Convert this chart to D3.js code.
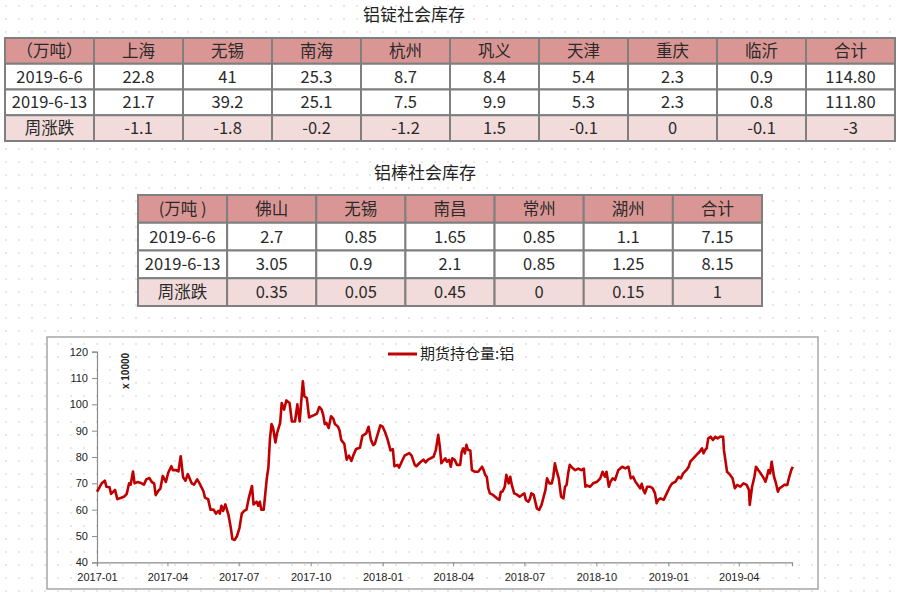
<!DOCTYPE html>
<html>
<head>
<meta charset="utf-8">
<script src="https://cdn.jsdelivr.net/npm/d3@7"></script>
<style>
body { margin: 0; background: #fff; }
text { font-family: "Noto Sans CJK SC", "Noto Sans", sans-serif; fill: #222; }
</style>
</head>
<body>
<div class="chart-container"></div>
<script>
// 铝锭社会库存
var ingotHeader = ['（万吨）', '上海', '无锡', '南海', '杭州', '巩义', '天津', '重庆', '临沂', '合计'];
var ingotRow1 = ['2019-6-6', '22.8', '41', '25.3', '8.7', '8.4', '5.4', '2.3', '0.9', '114.80'];
var ingotRow2 = ['2019-6-13', '21.7', '39.2', '25.1', '7.5', '9.9', '5.3', '2.3', '0.8', '111.80'];
var ingotChange = ['周涨跌', '-1.1', '-1.8', '-0.2', '-1.2', '1.5', '-0.1', '0', '-0.1', '-3'];

// 铝棒社会库存
var rodHeader = ['(万吨 )', '佛山', '无锡', '南昌', '常州', '湖州', '合计'];
var rodRow1 = ['2019-6-6', '2.7', '0.85', '1.65', '0.85', '1.1', '7.15'];
var rodRow2 = ['2019-6-13', '3.05', '0.9', '2.1', '0.85', '1.25', '8.15'];
var rodChange = ['周涨跌', '0.35', '0.05', '0.45', '0', '0.15', '1'];

// 期货持仓量:铝 (x 10000), days counted from 2017-01-01
var seriesName = '期货持仓量:铝';
var startDate = new Date(2017, 0, 1);
var endDate = new Date(2019, 5, 8);
var days = [0, 6, 10, 12, 16, 18, 23, 26, 31, 35, 38, 41, 43, 46, 48, 52, 57, 60, 63, 67,
  70, 73, 75, 78, 81, 84, 88, 91, 95, 97, 101, 104, 107, 110, 113, 116, 121, 124, 128, 131,
  136, 138, 142, 145, 149, 152, 155, 157, 159, 161, 164, 168, 171, 173, 176, 179, 182, 185, 188, 191,
  194, 198, 200, 204, 206, 208, 210, 213, 215, 217, 219, 221, 223, 225, 228, 230, 232, 234, 236, 239,
  242, 246, 249, 253, 256, 259, 263, 265, 268, 271, 274, 278, 281, 284, 287, 289, 291, 293, 296, 299,
  302, 304, 308, 310, 312, 316, 319, 322, 325, 328, 331, 336, 339, 344, 347, 350, 353, 355, 358, 362,
  365, 368, 371, 375, 378, 380, 384, 386, 389, 393, 399, 402, 406, 408, 413, 417, 420, 423,
  430, 433, 436, 438, 440, 445, 447, 450, 452, 454, 457, 460, 464, 466, 468, 470, 472, 474, 477, 479,
  483, 487, 492, 494, 496, 498, 500, 502, 506, 511, 514, 516, 518, 521, 523, 526, 528, 530, 533, 536,
  540, 543, 546, 548, 551, 553, 555, 558, 562, 565, 568, 573, 575, 578, 581, 583, 585, 587, 590, 593,
  596, 598, 600, 602, 604, 608, 611, 615, 619, 622, 624, 626, 630, 634, 639, 643, 646, 649, 651, 654,
  656, 659, 662, 666, 671, 675, 679, 682, 685, 688, 691, 694, 696, 698, 700, 703, 707, 710, 713, 715,
  717, 720, 724, 728, 732, 735, 739, 743, 746, 749, 753, 756, 758, 762, 766, 770, 773, 775, 777, 779,
  781, 784, 787, 790, 793, 796, 800, 801, 805, 809, 812, 815, 818, 822, 826, 830, 833, 834, 837, 840,
  842, 845, 848, 852, 854, 856, 858, 860, 862, 865, 867, 870, 872, 875, 878, 882, 884, 887, 889];
var values = [66.8, 70, 71, 68.7, 68.5, 66, 67.5, 64, 64.5, 65, 66, 70, 69.5, 74.5, 70, 70.5, 70, 69.5, 71.5, 72,
  70.5, 70, 65.5, 67, 68, 72.8, 70.5, 74, 76.5, 75, 75, 74.5, 80.3, 72.3, 71, 73.5, 70, 69.5, 71.5, 70,
  67, 64.5, 64, 60, 60, 58.5, 59.5, 58.5, 61.5, 59.5, 62, 58, 53, 48.8, 48.5, 50, 53, 58.5, 59.5, 60,
  64.5, 69, 62, 63, 61.5, 63, 60, 60, 66, 72, 76, 87, 92.5, 91, 85.5, 89, 91, 93, 100.5, 98,
  101.5, 100.5, 93.5, 93.5, 100, 93.5, 108.8, 103, 102.5, 95, 95.5, 96, 96.5, 99, 98, 96, 92.5, 93, 91, 95.5,
  94.5, 92.5, 91.5, 90, 86.5, 85, 79, 80.5, 78.5, 81, 83, 83.5, 88, 89, 91.5, 86.5, 84.5, 85, 88, 92,
  91.5, 89.5, 87, 82.5, 83, 76.5, 77, 76, 78, 80.5, 81.5, 80.5, 77, 76.5, 78, 79, 78, 79,
  80.1, 82.7, 88.4, 83.9, 77.6, 79.5, 78.2, 78.9, 76.3, 79.5, 78.9, 77, 77, 82, 83.3, 81.4, 84.6, 82.7, 82.5, 75,
  74.4, 74.4, 76.3, 75, 73.2, 72.5, 68.1, 66.2, 65.6, 64.3, 63.7, 66.8, 66.8, 68.7, 73.2, 70, 72.5, 69.4, 66.2, 65.8,
  64.9, 65.6, 66.2, 63.7, 63, 64, 66.2, 65.6, 60.5, 59.9, 61.8, 67.5, 71.9, 70, 70, 72.5, 77.6, 75, 71.9, 64.9,
  64.3, 68.7, 69.4, 73.8, 77, 75.7, 75, 75.6, 75, 75.6, 68.7, 69.2, 68.7, 70, 70.6, 71.9, 74.4, 72.5, 74.4, 68.7,
  70.6, 71.9, 71.3, 75, 76.3, 75.7, 76.3, 71.9, 72.5, 70.6, 69.4, 68.1, 69.8, 67.5, 66.2, 68.7, 68.7, 68.1, 66.2, 62.4,
  63.7, 64.3, 63.7, 66.2, 68.7, 70, 70.6, 72.5, 71.9, 73.8, 75, 76.3, 78.2, 79.5, 80.8, 82, 83.3, 81.4, 82.7, 83.3,
  87.1, 87.7, 86.5, 87.7, 87.1, 87.7, 87.7, 82.7, 74.4, 73.2, 71.9, 68.1, 69.4, 68.7, 70, 69.4, 67.5, 61.8, 68.7, 72.5,
  76.3, 75, 73.8, 71.9, 70.6, 72.5, 75, 73.8, 78.2, 72.5, 70.6, 66.8, 68.1, 68.7, 69.4, 69.4, 71.9, 75, 76.3];

var yTicks = [40, 50, 60, 70, 80, 90, 100, 110, 120];

var svg = d3.select('.chart-container').append('svg')
  .attr('width', 900)
  .attr('height', 594);

// dotted page background
var pattern = svg.append('defs').append('pattern')
  .attr('id', 'dots')
  .attr('patternUnits', 'userSpaceOnUse')
  .attr('width', 13)
  .attr('height', 13);
pattern.append('circle')
  .attr('cx', 6).attr('cy', 6).attr('r', 1.1)
  .attr('fill', '#e2e2e2');
svg.append('rect')
  .attr('width', 900).attr('height', 594)
  .attr('fill', 'url(#dots)');

function drawTable(rows, x0, x1, y0, y1, fills) {
  var nCols = rows[0].length;
  var x = d3.scaleBand().domain(d3.range(nCols)).range([x0, x1]);
  var y = d3.scaleBand().domain(d3.range(rows.length)).range([y0, y1]);
  var g = svg.append('g');

  var row = g.selectAll('g.row')
    .data(rows).enter()
    .append('g')
      .attr('class', 'row');

  row.selectAll('rect')
    .data((d, i) => d.map(v => ({ v: v, r: i })))
    .enter().append('rect')
      .attr('x', (d, j) => x(j))
      .attr('y', d => y(d.r))
      .attr('width', x.bandwidth())
      .attr('height', y.bandwidth())
      .attr('fill', d => fills[d.r])
      .attr('stroke', '#7f7f7f')
      .attr('stroke-width', 2);

  row.selectAll('text')
    .data((d, i) => d.map(v => ({ v: v, r: i })))
    .enter().append('text')
      .attr('x', (d, j) => x(j) + x.bandwidth() / 2)
      .attr('y', d => y(d.r) + y.bandwidth() / 2)
      .attr('dy', '0.36em')
      .attr('text-anchor', 'middle')
      .style('font-size', '16.5px')
      .style('fill', '#2a2a2a')
      .text(d => d.v);
}

var tableFills = ['#da9694', '#ffffff', '#ffffff', '#f2dcdb'];

svg.append('text')
  .attr('x', 414).attr('y', 15).attr('dy', '0.36em')
  .attr('text-anchor', 'middle')
  .style('font-size', '17px')
  .text('铝锭社会库存');
drawTable([ingotHeader, ingotRow1, ingotRow2, ingotChange], 5, 895, 38, 141, tableFills);

svg.append('text')
  .attr('x', 425).attr('y', 173).attr('dy', '0.36em')
  .attr('text-anchor', 'middle')
  .style('font-size', '17px')
  .text('铝棒社会库存');
drawTable([rodHeader, rodRow1, rodRow2, rodChange], 138, 762, 195, 306, tableFills);

/*
 * line chart
 */
svg.append('rect')
  .attr('x', 47).attr('y', 337)
  .attr('width', 771).attr('height', 252)
  .attr('fill', 'none')
  .attr('stroke', '#a6a6a6')
  .attr('stroke-width', 1.5);

var x = d3.scaleTime()
  .domain([startDate, endDate])
  .range([97, 792]);

var y = d3.scaleLinear()
  .domain([40, 120])
  .range([562.3, 351.7]);

var xAxis = d3.axisBottom(x)
  .ticks(d3.timeMonth.every(3))
  .tickFormat(d3.timeFormat('%Y-%m'))
  .tickSizeOuter(0)
  .tickSize(4);

var yAxis = d3.axisLeft(y)
  .tickValues(yTicks)
  .tickSizeOuter(0)
  .tickSize(5);

var gX = svg.append('g')
  .attr('transform', `translate(0, ${y(40)})`)
  .call(xAxis);

var gY = svg.append('g')
  .attr('transform', `translate(${x(startDate)}, 0)`)
  .call(yAxis);

[gX, gY].forEach(g => {
  g.select('.domain').attr('stroke', '#8c8c8c').attr('stroke-width', 1.2);
  g.selectAll('.tick line').attr('stroke', '#8c8c8c');
  g.selectAll('.tick text')
    .style('font-family', '"Liberation Sans", Arial, sans-serif')
    .style('font-size', '11px')
    .attr('fill', '#222');
});
gX.selectAll('.tick text').attr('dy', '1.1em');
gY.selectAll('.tick text').attr('x', -9);

svg.append('text')
  .attr('transform', 'translate(129, 371) rotate(-90)')
  .attr('text-anchor', 'middle')
  .style('font-family', '"Liberation Sans", Arial, sans-serif')
  .style('font-size', '10px')
  .style('font-weight', 'bold')
  .text('x 10000');

var points = days.map((d, i) => ({ date: d3.timeDay.offset(startDate, d), value: values[i] }));

svg.append('path')
  .datum(points)
  .attr('fill', 'none')
  .attr('stroke', '#c00000')
  .attr('stroke-width', 2.6)
  .attr('stroke-linejoin', 'round')
  .attr('d', d3.line().x(d => x(d.date)).y(d => y(d.value)));

// legend
svg.append('line')
  .attr('x1', 388).attr('x2', 417)
  .attr('y1', 354).attr('y2', 354)
  .attr('stroke', '#c00000')
  .attr('stroke-width', 3);
svg.append('text')
  .attr('x', 420).attr('y', 354).attr('dy', '0.36em')
  .style('font-size', '15px')
  .text(seriesName);
</script>
</body>
</html>
